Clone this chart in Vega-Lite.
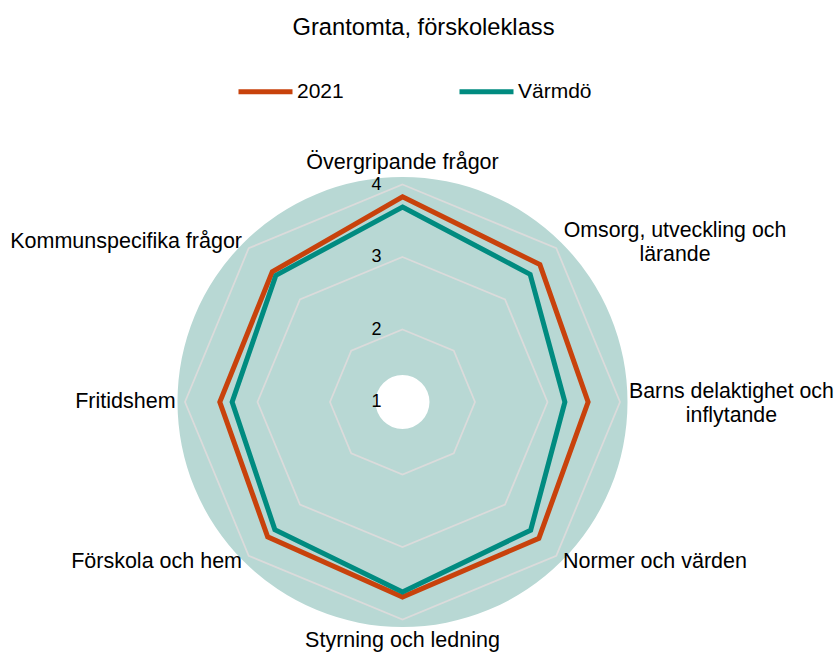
{
  "$schema": "https://vega.github.io/schema/vega-lite/v6.json",
  "autosize": {"type": "none"},
  "width": 464,
  "height": 464,
  "padding": {"left": 170.5, "top": 170, "right": 203.5, "bottom": 18},
  "background": "#ffffff",
  "title": {
    "text": "Grantomta, förskoleklass",
    "frame": "group",
    "anchor": "middle",
    "offset": 3,
    "dx": 21,
    "baseline": "alphabetic",
    "font": "Liberation Sans",
    "fontSize": 23.7,
    "fontWeight": "normal",
    "color": "#000000"
  },
  "config": {
    "view": {"stroke": null},
    "font": "Liberation Sans"
  },
  "datasets": {
    "varden": [
      {"kategori": "Övergripande frågor", "serie": "2021", "varde": 3.83},
      {"kategori": "Omsorg, utveckling och lärande", "serie": "2021", "varde": 3.68},
      {"kategori": "Barns delaktighet och inflytande", "serie": "2021", "varde": 3.56},
      {"kategori": "Normer och värden", "serie": "2021", "varde": 3.66},
      {"kategori": "Styrning och ledning", "serie": "2021", "varde": 3.69},
      {"kategori": "Förskola och hem", "serie": "2021", "varde": 3.63},
      {"kategori": "Fritidshem", "serie": "2021", "varde": 3.52},
      {"kategori": "Kommunspecifika frågor", "serie": "2021", "varde": 3.54},
      {"kategori": "Övergripande frågor", "serie": "Värmdö", "varde": 3.69},
      {"kategori": "Omsorg, utveckling och lärande", "serie": "Värmdö", "varde": 3.49},
      {"kategori": "Barns delaktighet och inflytande", "serie": "Värmdö", "varde": 3.24},
      {"kategori": "Normer och värden", "serie": "Värmdö", "varde": 3.5},
      {"kategori": "Styrning och ledning", "serie": "Värmdö", "varde": 3.62},
      {"kategori": "Förskola och hem", "serie": "Värmdö", "varde": 3.49},
      {"kategori": "Fritidshem", "serie": "Värmdö", "varde": 3.35},
      {"kategori": "Kommunspecifika frågor", "serie": "Värmdö", "varde": 3.47}
    ],
    "kategorier": [
      {"kategori": "Övergripande frågor", "etikett": "Övergripande frågor"},
      {"kategori": "Omsorg, utveckling och lärande", "etikett": "Omsorg, utveckling och\nlärande"},
      {"kategori": "Barns delaktighet och inflytande", "etikett": "Barns delaktighet och\ninflytande"},
      {"kategori": "Normer och värden", "etikett": "Normer och värden"},
      {"kategori": "Styrning och ledning", "etikett": "Styrning och ledning"},
      {"kategori": "Förskola och hem", "etikett": "Förskola och hem"},
      {"kategori": "Fritidshem", "etikett": "Fritidshem"},
      {"kategori": "Kommunspecifika frågor", "etikett": "Kommunspecifika frågor"}
    ],
    "rutnat": [
      {"kategori": "Övergripande frågor", "niva": 2},
      {"kategori": "Omsorg, utveckling och lärande", "niva": 2},
      {"kategori": "Barns delaktighet och inflytande", "niva": 2},
      {"kategori": "Normer och värden", "niva": 2},
      {"kategori": "Styrning och ledning", "niva": 2},
      {"kategori": "Förskola och hem", "niva": 2},
      {"kategori": "Fritidshem", "niva": 2},
      {"kategori": "Kommunspecifika frågor", "niva": 2},
      {"kategori": "Övergripande frågor", "niva": 3},
      {"kategori": "Omsorg, utveckling och lärande", "niva": 3},
      {"kategori": "Barns delaktighet och inflytande", "niva": 3},
      {"kategori": "Normer och värden", "niva": 3},
      {"kategori": "Styrning och ledning", "niva": 3},
      {"kategori": "Förskola och hem", "niva": 3},
      {"kategori": "Fritidshem", "niva": 3},
      {"kategori": "Kommunspecifika frågor", "niva": 3},
      {"kategori": "Övergripande frågor", "niva": 4},
      {"kategori": "Omsorg, utveckling och lärande", "niva": 4},
      {"kategori": "Barns delaktighet och inflytande", "niva": 4},
      {"kategori": "Normer och värden", "niva": 4},
      {"kategori": "Styrning och ledning", "niva": 4},
      {"kategori": "Förskola och hem", "niva": 4},
      {"kategori": "Fritidshem", "niva": 4},
      {"kategori": "Kommunspecifika frågor", "niva": 4}
    ],
    "nivaer": [
      {"niva": 1}, {"niva": 2}, {"niva": 3}, {"niva": 4}
    ]
  },
  "layer": [
    {
      "data": {"values": [{"yta": "bakgrund"}]},
      "mark": {"type": "arc", "theta": 0, "theta2": 6.2832, "radius": 225, "innerRadius": 27, "fill": "#b8d8d4", "stroke": null},
      "encoding": {}
    },
    {
      "data": {"name": "rutnat"},
      "transform": [
        {"window": [{"op": "row_number", "as": "i"}], "groupby": ["niva"]},
        {"calculate": "(datum.i - 1) * PI / 4", "as": "a"},
        {"calculate": "(datum.niva - 1) * sin(datum.a)", "as": "gx"},
        {"calculate": "(datum.niva - 1) * cos(datum.a)", "as": "gy"}
      ],
      "mark": {"type": "line", "interpolate": "linear-closed", "color": "#dbdbdb", "strokeWidth": 1.75},
      "encoding": {
        "x": {"field": "gx", "type": "quantitative", "scale": {"domain": [-3.2, 3.2]}, "axis": null},
        "y": {"field": "gy", "type": "quantitative", "scale": {"domain": [-3.2, 3.2]}, "axis": null},
        "detail": {"field": "niva"},
        "order": {"field": "i"}
      }
    },
    {
      "data": {"name": "varden"},
      "transform": [
        {"window": [{"op": "row_number", "as": "i"}], "groupby": ["serie"]},
        {"calculate": "(datum.i - 1) * PI / 4", "as": "a"},
        {"calculate": "(datum.varde - 1) * sin(datum.a)", "as": "px"},
        {"calculate": "(datum.varde - 1) * cos(datum.a)", "as": "py"}
      ],
      "mark": {"type": "line", "interpolate": "linear-closed", "strokeWidth": 5, "strokeJoin": "miter"},
      "encoding": {
        "x": {"field": "px", "type": "quantitative", "scale": {"domain": [-3.2, 3.2]}, "axis": null},
        "y": {"field": "py", "type": "quantitative", "scale": {"domain": [-3.2, 3.2]}, "axis": null},
        "color": {
          "field": "serie",
          "type": "nominal",
          "scale": {"domain": ["2021", "Värmdö"], "range": ["#c8420c", "#008b80"]},
          "legend": {
            "title": null,
            "orient": "none",
            "direction": "horizontal",
            "legendX": 65.5,
            "legendY": -108,
            "symbolType": "stroke",
            "symbolSize": 2916,
            "symbolStrokeWidth": 5,
            "labelOffset": 2,
            "columnPadding": 105,
            "labelFont": "Liberation Sans",
            "labelFontSize": 21,
            "labelColor": "#000000",
            "labelLimit": 300
          }
        },
        "order": {"field": "i"}
      }
    },
    {
      "data": {"name": "nivaer"},
      "transform": [
        {"calculate": "datum.niva - 1", "as": "ny"}
      ],
      "mark": {"type": "text", "align": "center", "baseline": "middle", "dx": -26, "fontSize": 18, "font": "Liberation Sans", "color": "#000000"},
      "encoding": {
        "x": {"datum": 0, "type": "quantitative", "scale": {"domain": [-3.2, 3.2]}, "axis": null},
        "y": {"field": "ny", "type": "quantitative", "scale": {"domain": [-3.2, 3.2]}, "axis": null},
        "text": {"field": "niva", "type": "quantitative"}
      }
    },
    {
      "data": {"name": "kategorier"},
      "transform": [
        {"window": [{"op": "row_number", "as": "i"}]},
        {"filter": "datum.i == 1 || datum.i == 5"},
        {"calculate": "(datum.i - 1) * PI / 4", "as": "a"},
        {"calculate": "3.3 * sin(datum.a)", "as": "lx"},
        {"calculate": "3.3 * cos(datum.a)", "as": "ly"}
      ],
      "mark": {"type": "text", "align": "center", "baseline": "middle", "fontSize": 21.5, "font": "Liberation Sans", "color": "#000000"},
      "encoding": {
        "x": {"field": "lx", "type": "quantitative", "scale": {"domain": [-3.2, 3.2]}, "axis": null},
        "y": {"field": "ly", "type": "quantitative", "scale": {"domain": [-3.2, 3.2]}, "axis": null},
        "text": {"field": "etikett"}
      }
    },
    {
      "data": {"name": "kategorier"},
      "transform": [
        {"window": [{"op": "row_number", "as": "i"}]},
        {"filter": "datum.i == 4"},
        {"calculate": "(datum.i - 1) * PI / 4", "as": "a"},
        {"calculate": "3.13 * sin(datum.a)", "as": "lx"},
        {"calculate": "3.13 * cos(datum.a)", "as": "ly"}
      ],
      "mark": {"type": "text", "align": "left", "baseline": "middle", "fontSize": 21.5, "font": "Liberation Sans", "color": "#000000"},
      "encoding": {
        "x": {"field": "lx", "type": "quantitative", "scale": {"domain": [-3.2, 3.2]}, "axis": null},
        "y": {"field": "ly", "type": "quantitative", "scale": {"domain": [-3.2, 3.2]}, "axis": null},
        "text": {"field": "etikett"}
      }
    },
    {
      "data": {"name": "kategorier"},
      "transform": [
        {"window": [{"op": "row_number", "as": "i"}]},
        {"filter": "datum.i >= 6"},
        {"calculate": "(datum.i - 1) * PI / 4", "as": "a"},
        {"calculate": "3.13 * sin(datum.a)", "as": "lx"},
        {"calculate": "3.13 * cos(datum.a)", "as": "ly"}
      ],
      "mark": {"type": "text", "align": "right", "baseline": "middle", "fontSize": 21.5, "font": "Liberation Sans", "color": "#000000"},
      "encoding": {
        "x": {"field": "lx", "type": "quantitative", "scale": {"domain": [-3.2, 3.2]}, "axis": null},
        "y": {"field": "ly", "type": "quantitative", "scale": {"domain": [-3.2, 3.2]}, "axis": null},
        "text": {"field": "etikett"}
      }
    },
    {
      "data": {"name": "kategorier"},
      "transform": [
        {"window": [{"op": "row_number", "as": "i"}]},
        {"filter": "datum.i == 2"},
        {"calculate": "(datum.i - 1) * PI / 4", "as": "a"},
        {"calculate": "3.13 * sin(datum.a)", "as": "lx"},
        {"calculate": "3.13 * cos(datum.a)", "as": "ly"}
      ],
      "mark": {"type": "text", "align": "center", "baseline": "middle", "dx": 112, "dy": -11, "lineBreak": "\n", "lineHeight": 24, "fontSize": 21.3, "font": "Liberation Sans", "color": "#000000"},
      "encoding": {
        "x": {"field": "lx", "type": "quantitative", "scale": {"domain": [-3.2, 3.2]}, "axis": null},
        "y": {"field": "ly", "type": "quantitative", "scale": {"domain": [-3.2, 3.2]}, "axis": null},
        "text": {"field": "etikett"}
      }
    },
    {
      "data": {"name": "kategorier"},
      "transform": [
        {"window": [{"op": "row_number", "as": "i"}]},
        {"filter": "datum.i == 3"},
        {"calculate": "(datum.i - 1) * PI / 4", "as": "a"},
        {"calculate": "3.13 * sin(datum.a)", "as": "lx"},
        {"calculate": "3.13 * cos(datum.a)", "as": "ly"}
      ],
      "mark": {"type": "text", "align": "center", "baseline": "middle", "dx": 102, "dy": -10.5, "lineBreak": "\n", "lineHeight": 24, "fontSize": 21.3, "font": "Liberation Sans", "color": "#000000"},
      "encoding": {
        "x": {"field": "lx", "type": "quantitative", "scale": {"domain": [-3.2, 3.2]}, "axis": null},
        "y": {"field": "ly", "type": "quantitative", "scale": {"domain": [-3.2, 3.2]}, "axis": null},
        "text": {"field": "etikett"}
      }
    }
  ]
}
